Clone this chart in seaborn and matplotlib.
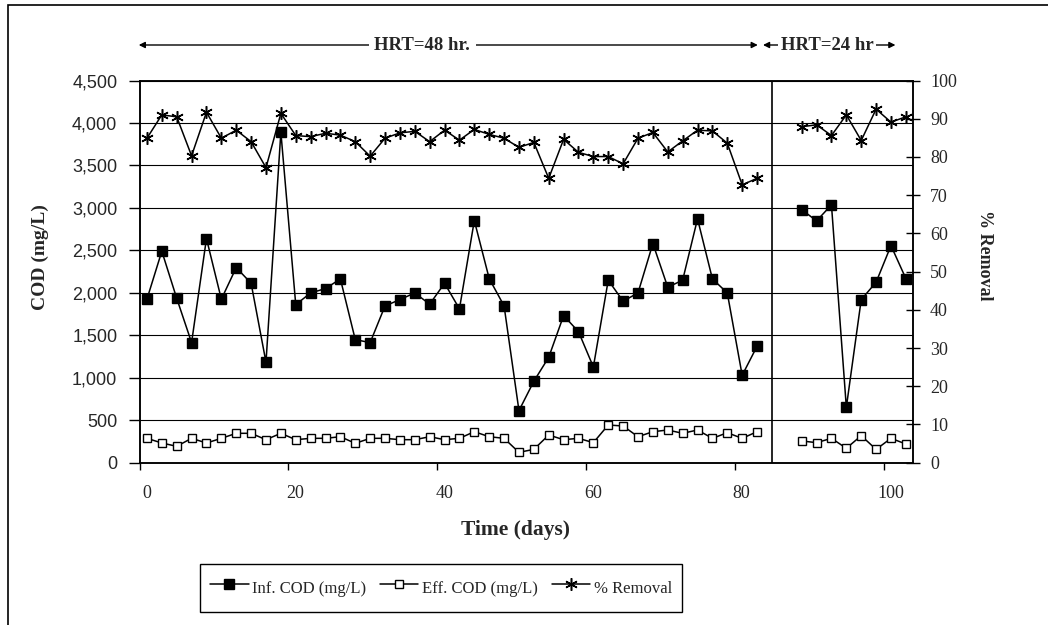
import numpy as np
import pandas as pd
import matplotlib
matplotlib.use('Agg')
import matplotlib.pyplot as plt
import matplotlib.transforms as mtransforms
from matplotlib.patches import Rectangle
from matplotlib.ticker import MultipleLocator, StrMethodFormatter
import seaborn as sns

###--------------------------------------------------###
# Datos (HRT = 48 h y HRT = 24 h)
days_48 = [1, 3, 5, 7, 9, 11, 13, 15, 17, 19, 21, 23, 25, 27, 29, 31, 33, 35, 37, 39, 41,
           43, 45, 47, 49, 51, 53, 55, 57, 59, 61, 63, 65, 67, 69, 71, 73, 75, 77, 79, 81, 83]
inf_48 = [1925, 2490, 1936, 1414, 2639, 1925, 2297, 2113, 1183, 3892, 1861, 1999, 2050, 2164,
          1449, 1414, 1846, 1920, 1999, 1866, 2113, 1811, 2851, 2168, 1846, 613, 959, 1241,
          1732, 1543, 1127, 2149, 1901, 1999, 2580, 2066, 2149, 2871, 2164, 1999, 1029, 1371]
eff_48 = [287, 232, 193, 287, 232, 287, 346, 346, 271, 346, 271, 287, 287, 306, 228, 287,
          287, 271, 271, 306, 271, 287, 365, 306, 287, 122, 157, 326, 271, 287, 236, 444,
          432, 306, 365, 385, 346, 385, 287, 353, 287, 365]
rem_48 = [84.9, 91.0, 90.5, 80.3, 91.7, 84.9, 87.0, 84.0, 77.2, 91.4, 85.6, 85.3, 86.2, 85.7,
          84.0, 80.2, 84.9, 86.3, 86.7, 84.0, 87.0, 84.4, 87.2, 85.9, 84.9, 82.5, 83.8, 74.4,
          84.6, 81.2, 80.1, 80.1, 78.2, 84.9, 86.4, 81.3, 84.2, 87.0, 86.8, 83.6, 72.7, 74.4]

days_24 = [89, 91, 93, 95, 97, 99, 101, 103]
inf_24 = [2980, 2847, 3036, 652, 1920, 2125, 2556, 2168]
eff_24 = [256, 236, 287, 170, 318, 157, 287, 220]
rem_24 = [87.9, 88.4, 85.6, 91.0, 84.3, 92.5, 89.1, 90.5]

xticks = [0, 20, 40, 60, 80, 100]
###--------------------------------------------------###

def make_df(days, inf, eff, rem, period):
    return pd.DataFrame({'day': days, 'inf': inf, 'eff': eff, 'rem': rem, 'period': period})

df = pd.concat([make_df(days_48, inf_48, eff_48, rem_48, '48'),
                make_df(days_24, inf_24, eff_24, rem_24, '24')], ignore_index=True)

sns.set_theme(style='white')
plt.rcParams['font.family'] = ['Liberation Serif', 'DejaVu Serif']

W, H = 1048, 625
fig = plt.figure(figsize=(W / 100, H / 100), dpi=100)
ax = fig.add_axes([139.5 / W, 1 - 462.7 / H, 773.8 / W, 382.2 / H])
ax2 = ax.twinx()

# Estilo de cada serie
series = [
    ('inf', ax, 'Inf. COD (mg/L)', dict(marker='s', markersize=6.5, markerfacecolor='black',
                                        markeredgecolor='black', markeredgewidth=1)),
    ('eff', ax, 'Eff. COD (mg/L)', dict(marker='s', markersize=5.5, markerfacecolor='white',
                                        markeredgecolor='black', markeredgewidth=1)),
    ('rem', ax2, '% Removal', dict(marker=(6, 2, 0), markersize=9, markerfacecolor='black',
                                   markeredgecolor='black', markeredgewidth=1.1)),
]

for col, axis, label, kw in series:
    for i, (period, sub) in enumerate(df.groupby('period', sort=False)):
        sns.lineplot(data=sub, x='day', y=col, ax=axis, color='black', linewidth=1.1,
                     label=label if i == 0 else '_nolegend_', legend=False, **kw)

# Ejes
ax.set_xlim(0, 104)
ax.set_ylim(0, 4500)
ax2.set_ylim(0, 100)
ax.set_xticks(xticks)
ax.yaxis.set_major_locator(MultipleLocator(500))
ax.yaxis.set_major_formatter(StrMethodFormatter('{x:,.0f}'))
ax2.yaxis.set_major_locator(MultipleLocator(10))
ax.set_xlabel('')
ax.set_ylabel('')
ax2.set_ylabel('')

ax.grid(axis='y', color='black', linewidth=0.8)
ax.grid(axis='x', visible=False)
ax2.grid(False)
for a in (ax, ax2):
    for s in a.spines.values():
        s.set_color('black')
        s.set_linewidth(1.1)

ax.tick_params(axis='y', direction='out', length=8, width=1, pad=8, labelsize=13, color='black', left=True)
ax.tick_params(axis='x', direction='out', length=5, width=1, pad=11, labelsize=13, color='black', bottom=True)
ax2.tick_params(axis='y', direction='inout', length=10, width=1, pad=7, labelsize=13, color='black', right=True)
for lab in ax.get_yticklabels():
    lab.set_fontfamily('Liberation Sans')
shift = mtransforms.ScaledTranslation(7 / 100, 0, fig.dpi_scale_trans)
for lab in ax.get_xticklabels():
    lab.set_transform(lab.get_transform() + shift)

# Linea de cambio de HRT
ax.axvline(85, color='black', linewidth=1.2)

# Flechas HRT
trans = ax.get_xaxis_transform()
yarr = (462.7 - 45) / 382.2
arrow = dict(arrowstyle='<|-|>', color='black', lw=1, mutation_scale=9, shrinkA=0, shrinkB=0)
ax.annotate('', xy=(-0.1, yarr), xytext=(83.1, yarr), xycoords=trans, textcoords=trans,
            arrowprops=arrow, annotation_clip=False)
ax.annotate('', xy=(83.8, yarr), xytext=(101.6, yarr), xycoords=trans, textcoords=trans,
            arrowprops=arrow, annotation_clip=False)
ax.text(38, yarr, 'HRT=48 hr.', transform=trans, ha='center', va='center', fontsize=13.5,
        fontweight='bold', bbox=dict(facecolor='white', edgecolor='none', pad=4))
ax.text(92.4, yarr, 'HRT=24 hr', transform=trans, ha='center', va='center', fontsize=13.5,
        fontweight='bold', bbox=dict(facecolor='white', edgecolor='none', pad=2))

# Titulos de ejes
fig.text(515.5 / W, 1 - 530 / H, 'Time (days)', ha='center', va='center', fontsize=15.5, fontweight='bold')
fig.text(40 / W, 1 - 257 / H, 'COD (mg/L)', ha='center', va='center', rotation=90, fontsize=14, fontweight='bold')
fig.text(985 / W, 1 - 255 / H, '% Removal', ha='center', va='center', rotation=270, fontsize=13, fontweight='bold')

# Leyenda
h1, l1 = ax.get_legend_handles_labels()
h2, l2 = ax2.get_legend_handles_labels()
leg = fig.legend(h1 + h2, l1 + l2, loc='center', bbox_to_anchor=(441 / W, 1 - 588 / H), ncol=3,
                 frameon=True, fancybox=False, edgecolor='black', framealpha=1, fontsize=12,
                 handlelength=2.3, handleheight=2.2, handletextpad=0.2, columnspacing=0.85,
                 borderpad=0.6)
leg.get_frame().set_linewidth(1.0)

# Marco exterior
fig.patches.append(Rectangle((8 / W, -0.05), 1.2, 1.05 - 5.5 / H, transform=fig.transFigure,
                             fill=False, edgecolor='black', linewidth=1.2))

fig.savefig('out.png', dpi=100)
